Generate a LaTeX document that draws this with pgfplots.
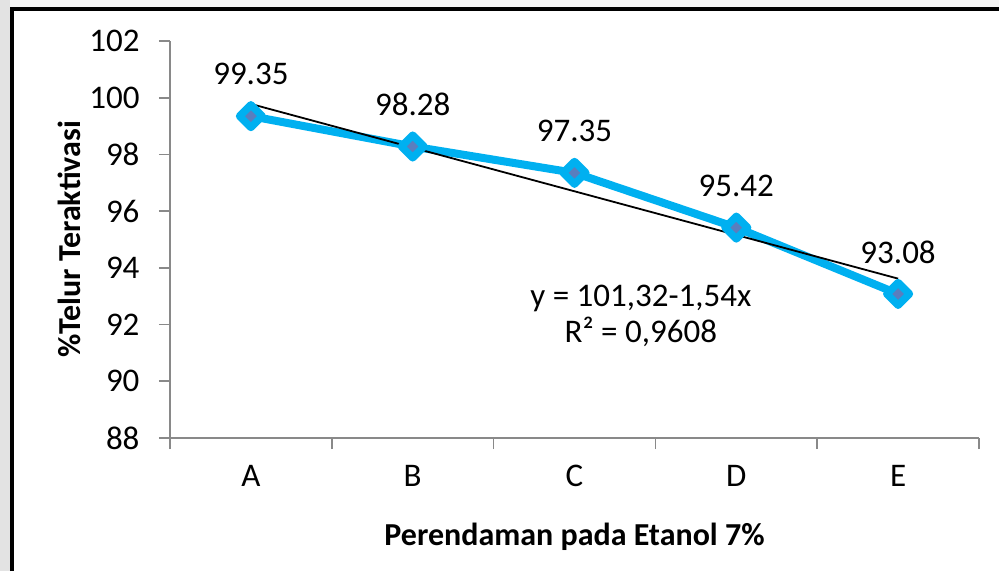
\documentclass[border=0pt]{standalone}
\usepackage{pgfplots}
\pgfplotsset{compat=1.18}
\usepackage{fontspec}
\setmainfont{Carlito}
\definecolor{lineC}{HTML}{00B0F0}
\definecolor{innerC}{HTML}{5A7EBE}
\definecolor{axisC}{HTML}{898989}
\begin{document}
\begin{tikzpicture}
\useasboundingbox (0,0) rectangle (999pt,571pt);
\fill[gray!22] (0,0) rectangle (10pt,571pt);
\fill[gray!8] (10pt,564pt) rectangle (999pt,571pt);
\draw[black, line width=4pt] (12pt,0) -- (12pt,562pt) -- (999pt,562pt);
\begin{axis}[
  at={(170pt,133pt)}, anchor=south west,
  scale only axis, width=809pt, height=397pt,
  xmin=0.5, xmax=5.5, ymin=88, ymax=102,
  axis x line*=bottom, axis y line*=left,
  axis line style={axisC, line width=1.6pt, -},
  every tick/.style={axisC, line width=1.6pt},
  tick align=outside, major tick length=11pt,
  xtick={0.5,1.5,2.5,3.5,4.5,5.5}, xticklabels={},
  extra x ticks={1,2,3,4,5}, extra x tick labels={A,B,C,D,E},
  extra x tick style={major tick length=0pt, ticklabel style={yshift=-24pt}},
  ytick={88,90,...,102},
  /pgf/number format/assume math mode=true,
  tick label style={font=\fontsize{33}{38}\selectfont},
  yticklabel style={xshift=-16pt},
  xlabel={\textbf{Perendaman pada Etanol 7\%}},
  ylabel={\textbf{\%Telur Teraktivasi}},
  label style={font=\fontsize{32}{38}\selectfont},
  xlabel style={at={(axis description cs:0.5,-0.249)}, anchor=center},
  ylabel style={at={(axis description cs:-0.124,0.5)}, anchor=center, rotate=0},
  clip=false,
]
\addplot[lineC, line width=8pt, line join=round,
  mark=square*, mark size=8pt,
  mark options={rotate=45, fill=innerC, draw=lineC, line width=7.5pt, line join=round},
  nodes near coords,
  every node near coord/.append style={font=\fontsize{33}{38}\selectfont, black, anchor=center, yshift=42pt},
  /pgf/number format/.cd, fixed, fixed zerofill, precision=2]
  coordinates {(1,99.35) (2,98.28) (3,97.35) (4,95.42) (5,93.08)};
\addplot[black, line width=1.8pt] coordinates {(1,99.78) (5,93.62)};
\node[font=\fontsize{33}{36}\selectfont, align=center, anchor=center] at (axis cs:3.41,92.3) {y = 101,32-1,54x\\[0pt]R² = 0,9608};
\end{axis}
\end{tikzpicture}
\end{document}
